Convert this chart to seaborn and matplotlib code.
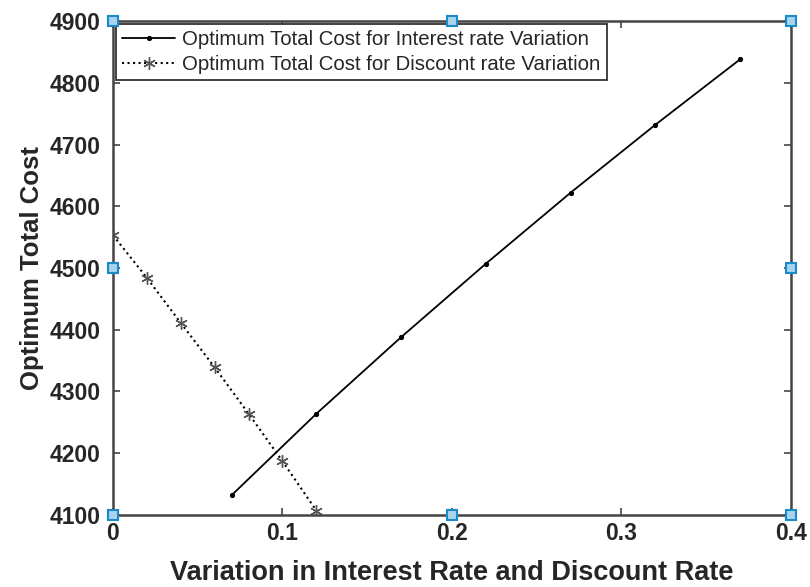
import matplotlib
matplotlib.use("Agg")
import matplotlib.pyplot as plt
import seaborn as sns
import pandas as pd

# Optimum total cost as the interest rate varies
interest_rate = [0.07, 0.12, 0.17, 0.22, 0.27, 0.32, 0.37]
cost_interest = [4132, 4264, 4388, 4507, 4622, 4732, 4838]

# Optimum total cost as the discount rate varies
discount_rate = [0.00, 0.02, 0.04, 0.06, 0.08, 0.10, 0.12]
cost_discount = [4553, 4484, 4411, 4339, 4264, 4187, 4107]

x_ticks = [0, 0.1, 0.2, 0.3, 0.4]
x_tick_labels = ["0", "0.1", "0.2", "0.3", "0.4"]
y_ticks = [4100, 4200, 4300, 4400, 4500, 4600, 4700, 4800, 4900]

# Highlighted corner / midpoint markers on the axes frame
marker_x = [0, 0.2, 0.4, 0, 0.4, 0, 0.2, 0.4]
marker_y = [4100, 4100, 4100, 4500, 4500, 4900, 4900, 4900]

sns.set_style("white")
plt.rcParams["font.family"] = ["Liberation Sans", "DejaVu Sans"]

fig = plt.figure(figsize=(8.1, 5.87), dpi=100)
ax = fig.add_axes([0.1395, 0.1227, 0.837, 0.8415])

df_i = pd.DataFrame({"rate": interest_rate, "cost": cost_interest})
df_d = pd.DataFrame({"rate": discount_rate, "cost": cost_discount})

sns.lineplot(data=df_i, x="rate", y="cost", ax=ax, color="black",
             linestyle="-", linewidth=1.3, marker="o", markersize=3,
             markeredgecolor="black",
             label="Optimum Total Cost for Interest rate Variation")
sns.lineplot(data=df_d, x="rate", y="cost", ax=ax, color="black",
             linestyle=":", linewidth=1.5, marker=(6, 2, 0), markersize=9,
             markeredgecolor="#555555", markeredgewidth=1.0,
             label="Optimum Total Cost for Discount rate Variation")

ax.plot(marker_x, marker_y, linestyle="none", marker="s", markersize=7,
        markerfacecolor="#a8d4ee", markeredgecolor="#1a8acb",
        markeredgewidth=1.5, clip_on=False, zorder=10)

ax.set_xlim(0, 0.4)
ax.set_ylim(4100, 4900)
ax.set_xticks(x_ticks)
ax.set_xticklabels(x_tick_labels)
ax.set_yticks(y_ticks)

for side in ["left", "right", "top", "bottom"]:
    ax.spines[side].set_visible(True)
    ax.spines[side].set_color("#444444")
    ax.spines[side].set_linewidth(1.8)

ax.tick_params(axis="y", pad=9)
ax.tick_params(axis="x", pad=5)
ax.tick_params(axis="both", direction="in", length=5, width=1.2,
               color="#444444", labelsize=16.5,
               top=True, right=True, bottom=True, left=True)
for lbl in ax.get_xticklabels() + ax.get_yticklabels():
    lbl.set_fontweight("bold")
    lbl.set_color("#262626")

ax.set_xlabel("Variation in Interest Rate and Discount Rate",
              fontsize=19.5, fontweight="bold", color="#262626", labelpad=11)
ax.set_ylabel("Optimum Total Cost", fontsize=18.5, fontweight="bold",
              color="#262626", labelpad=4)

leg = ax.legend(loc="upper left", fontsize=14.7, frameon=True, fancybox=False,
                edgecolor="#333333", framealpha=1, borderpad=0.3,
                handlelength=2.6, handletextpad=0.35, labelspacing=0.3,
                borderaxespad=0.15)
leg.get_frame().set_linewidth(1.3)

fig.savefig("out.png", dpi=100)
